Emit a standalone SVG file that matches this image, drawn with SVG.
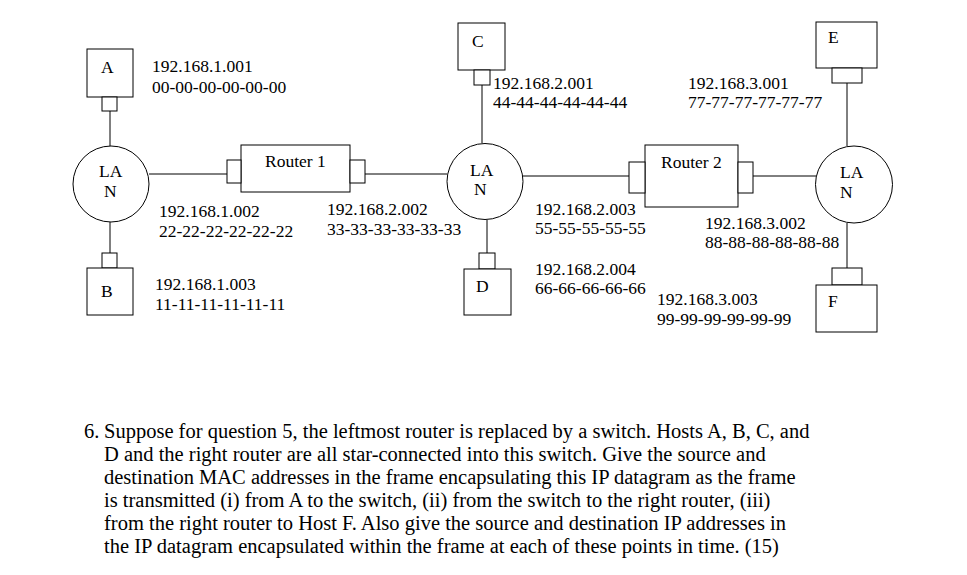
<svg xmlns="http://www.w3.org/2000/svg" width="967" height="575" viewBox="0 0 967 575">
<style>
rect,circle{fill:#fff;stroke:#000;stroke-width:1}
line{stroke:#000;stroke-width:1}
text{font-family:"Liberation Serif","Times New Roman",serif;font-size:17.5px;fill:#000}
.q{font-size:20.5px}
</style>
<g id="connectors">
<line x1="110" y1="111" x2="110" y2="146"/>
<line x1="110" y1="222" x2="110" y2="253"/>
<line x1="149" y1="174" x2="227" y2="174"/>
<line x1="365" y1="174" x2="447" y2="174"/>
<line x1="482" y1="85" x2="482" y2="143"/>
<line x1="487" y1="220" x2="487" y2="253"/>
<line x1="523" y1="176" x2="629" y2="176"/>
<line x1="753" y1="176" x2="816" y2="176"/>
<line x1="847" y1="83" x2="847" y2="146"/>
<line x1="847" y1="223" x2="847" y2="268"/>
</g>
<g id="A"><rect x="87" y="49" width="46" height="48"/><rect x="102" y="97" width="15" height="14"/><text x="101" y="73">A</text></g>
<g id="B"><rect x="102" y="253" width="15" height="15"/><rect x="87" y="268" width="46" height="47"/><text x="101" y="297">B</text></g>
<g id="C"><rect x="458" y="23" width="47" height="47"/><rect x="474" y="70" width="16" height="15"/><text x="472" y="47">C</text></g>
<g id="D"><rect x="479" y="253" width="16" height="16"/><rect x="464" y="269" width="47" height="46"/><text x="476" y="292">D</text></g>
<g id="E"><rect x="816" y="22" width="61" height="46"/><rect x="832" y="68" width="30" height="15"/><text x="828" y="43">E</text></g>
<g id="F"><rect x="832" y="268" width="30" height="17"/><rect x="816" y="285" width="61" height="47"/><text x="828" y="307">F</text></g>
<g id="LAN1"><circle cx="111" cy="184" r="38"/><text x="99" y="177">LA</text><text x="104" y="197">N</text></g>
<g id="LAN2"><circle cx="485" cy="181.5" r="38"/><text x="470" y="176">LA</text><text x="474" y="195">N</text></g>
<g id="LAN3"><circle cx="854" cy="184.5" r="38.5"/><text x="840" y="178">LA</text><text x="840" y="198">N</text></g>
<g id="Router1"><rect x="241" y="145" width="109" height="47"/><rect x="227" y="160" width="14" height="23"/><rect x="350" y="160" width="15" height="23"/><text x="265" y="167">Router 1</text></g>
<g id="Router2"><rect x="645" y="145" width="93" height="62"/><rect x="629" y="162" width="16" height="31"/><rect x="738" y="162" width="15" height="31"/><text x="661" y="168">Router 2</text></g>
<g id="labels">
<text x="152" y="72">192.168.1.001</text><text x="152" y="93">00-00-00-00-00-00</text>
<text x="159" y="217">192.168.1.002</text><text x="159" y="237">22-22-22-22-22-22</text>
<text x="327" y="215">192.168.2.002</text><text x="327" y="235">33-33-33-33-33-33</text>
<text x="155" y="290">192.168.1.003</text><text x="155" y="310">11-11-11-11-11-11</text>
<text x="493" y="89">192.168.2.001</text><text x="493" y="108">44-44-44-44-44-44</text>
<text x="688" y="89">192.168.3.001</text><text x="688" y="108">77-77-77-77-77-77</text>
<text x="535" y="215">192.168.2.003</text><text x="535" y="234">55-55-55-55-55</text>
<text x="705" y="229">192.168.3.002</text><text x="705" y="248">88-88-88-88-88-88</text>
<text x="535" y="275">192.168.2.004</text><text x="535" y="294">66-66-66-66-66</text>
<text x="657" y="305">192.168.3.003</text><text x="657" y="325">99-99-99-99-99-99</text>
</g>
<g id="question" xml:space="preserve">
<text class="q" x="84" y="438">6.</text>
<text class="q" x="104" y="438">Suppose for question 5, the leftmost router is replaced by a switch. Hosts A, B, C, and</text>
<text class="q" x="104" y="461">D and the right router are all star-connected into this switch. Give the source and</text>
<text class="q" x="104" y="484">destination MAC addresses in the frame encapsulating this IP datagram as the frame</text>
<text class="q" x="104" y="507">is transmitted (i) from A to the switch,  (ii) from the switch to the right router, (iii)</text>
<text class="q" x="104" y="530">from the right router to Host F.  Also give the source and destination IP addresses in</text>
<text class="q" x="104" y="553">the IP datagram encapsulated within the frame at each of these points in time.  (15)</text>
</g>
</svg>
